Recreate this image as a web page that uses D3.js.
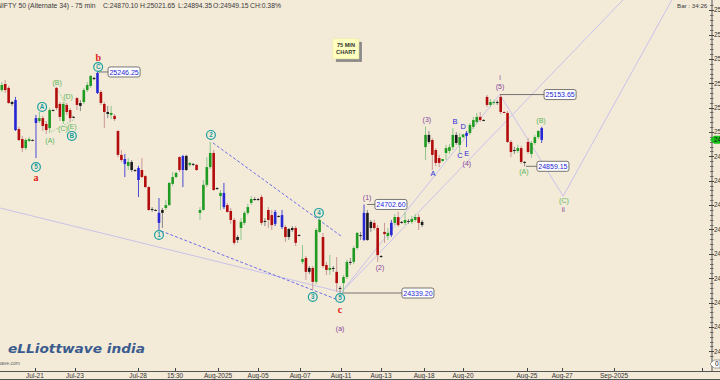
<!DOCTYPE html>
<meta charset="utf-8">
<style>

body { margin: 0; background: #f3ead8; }
svg { display: block; font-family: "Liberation Sans", Arial, sans-serif; }

.hdr { font-size: 6.8px; fill: #3a3a3a; }
.axis text { font-size: 6.5px; fill: #333; }
.wave { font-size: 7px; text-anchor: middle; }
.circ text { font-size: 6.3px; font-weight: bold; fill: #1a9e9e; text-anchor: middle; }
.circ circle { fill: none; stroke: #1a9e9e; stroke-width: 1.2px; }
.tag text { font-size: 7px; fill: #2323d6; text-anchor: middle; }
.tag rect { fill: #fff; stroke: #555; stroke-width: 0.8px; }

</style>
<svg width="720" height="380"></svg>
<script src="https://d3js.org/d3.v7.min.js"></script>
<script>

var svg = d3.select("svg"),
    width = +svg.attr("width"),
    height = +svg.attr("height");

// 75 min bars, Jul-17 .. Aug-25 (6 bars a day, last one is the 15:30 print)
var open = [
  25172,25197,25181,25123,25131,25012,24971,24934,24963,24967,
  25037,25045,25057,25033,25016,25090, 25181,25115,25045,25111,25090,25062,
  25139,25119,25123,25172,25189,25222, 25242,25164,25115,25082,25070,25066,
  25004,24906,24889,24861,24877,24844, 24852,24844,24819,24774,24684,24680,
  24668,24668,24688,24700,24787,24815, 24897,24844,24902,24865,24869,24865,
  24668,24680,24783,24856,24914,24770, 24737,24750,24700,24676,24639,24569,
  24606,24627,24668,24709,24725,24725, 24733,24635,24680,24659,24623,24655,
  24659,24610,24602,24606,24606,24577, 24467,24483,24442,24442,24385,24590,
  24569,24454,24434,24442,24426,24360, 24380,24405,24467,24467,24524,24573,
  24557,24668,24631,24627,24606,24491, 24590,24573,24577,24627,24651,24631,
  24627,24635,24631,24639,24651,24631, 24938,24988,24967,24926,24893,24881,
  24914,24922,24938,24988,24947,24979, 24984,24996,25021,25041,25062,25049,
  25144,25111,25119,25123,25144,25082, 25078,24959,24926,24922,24934,24877,
  24959,24910,24955,24979,25016];
var high = [
  25205,25213,25189,25127,25144,25021,24984,24975,24979,24971,
  25070,25082,25066,25045,25098,25094, 25185,25123,25123,25119,25098,25066,
  25144,25131,25181,25205,25234,25226, 25246.25,25172,25123,25107,25107,25074,
  25008,24926,24910,24893,24885,24848, 24861,24893,24824,24779,24692,24684,
  24729,24688,24721,24795,24836,24836, 24901,24906,24906,24877,24873,24869,
  24692,24803,24897,24959,24926,24774, 24762,24791,24709,24688,24647,24577,
  24647,24676,24705,24737,24733,24729, 24742,24647,24692,24680,24680,24659,
  24680,24618,24606,24614,24614,24581, 24536,24491,24450,24450,24606,24647,
  24586,24467,24495,24450,24487,24368, 24413,24475,24483,24532,24590,24590,
  24702.6,24680,24639,24639,24618,24495, 24627,24606,24639,24663,24672,24635,
  24672,24643,24655,24663,24663,24639, 25022,25004,24975,24934,24906,24889,
  24947,24951,25016,25000,24996,24992, 25004,25037,25062,25078,25082,25053,
  25152,25135,25131,25131,25153.65,25086, 25086,24967,24939,24947,24943,24881,
  24975,24963,24988,25008,25021.65];
var low = [
  25164,25160,25115,25107,25004,24963,24918,24926,24959,24963,
  24893,25037,25004,24992,24996,25086, 25090,25045,25033,25070,25041,25057,
  25090,25086,25115,25164,25181,25213, 25156,25111,25016,25057,25053,25045,
  24897,24877,24815,24844,24836,24836, 24733,24811,24770,24676,24672,24676,
  24598,24606,24680,24696,24778,24811, 24836,24774,24840,24856,24860,24840,
  24639,24676,24774,24848,24758,24762, 24680,24684,24668,24623,24536,24545,
  24557,24618,24659,24700,24717,24717, 24618,24614,24606,24598,24614,24651,
  24602,24549,24557,24590,24532,24573, 24458,24393,24417,24352,24376,24586,
  24442,24413,24413,24426,24344,24339.2, 24344,24397,24454,24458,24516,24557,
  24553,24553,24590,24598,24467,24483, 24545,24557,24569,24618,24610,24623,
  24618,24623,24623,24631,24598,24610, 24885,24951,24844,24860,24856,24877,
  24885,24910,24926,24947,24914,24975, 24938,24988,25012,25033,25041,25045,
  25103,25103,25111,25111,25074,25078, 24955,24897,24910,24914,24869,24859.15,
  24910,24894.35,24947,24971,24955];
var close = [
  25193,25172,25119,25115,25008,24967,24934,24967,24971,24965,
  25057,25057,25025,25008,25090,25088, 25098,25062,25115,25082,25057,25060,
  25111,25107,25172,25193,25230,25217, 25160,25119,25082,25074,25078,25053,
  24906,24885,24869,24877,24844,24840, 24803,24815,24774,24680,24680,24678,
  24627,24680,24700,24791,24815,24832, 24844,24901,24844,24873,24865,24844,
  24680,24783,24856,24914,24762,24766, 24750,24692,24672,24639,24545,24557,
  24631,24668,24692,24725,24723,24721, 24627,24631,24639,24618,24672,24651,
  24610,24569,24569,24598,24545,24575, 24479,24426,24426,24385,24598,24639,
  24450,24434,24442,24438,24380,24356, 24405,24467,24463,24524,24586,24577,
  24668,24557,24606,24606,24495,24487, 24581,24586,24627,24651,24618,24627,
  24639,24631,24643,24651,24627,24618, 24988,24959,24906,24873,24873,24889,
  24934,24938,24988,24955,24979,24990, 24996,25029,25049,25062,25049,25047,
  25111,25123,25123,25119,25082,25080, 24959,24918,24922,24934,24877,24873,
  24918,24955,24979,25004,24967.75];
// bar colouring of the package: g green, r red, b blue, k black
var signal = ("grrkbrrggk" + "bgrrgk" + "rrgrrk" + "rkgggk" + "brrkgr" + "rrbgkk" +
  "brrrkk" + "bkgggg" + "rbkgkr" + "ggggrk" + "gbrrrk" + "ggggkk" + "rkrrbk" +
  "brkkrk" + "grkrgg" + "rrgkrk" + "ggkggk" + "bkkrrk" + "rgbgrk" + "gkggrk" +
  "gkrrrg" + "gggkgg" + "bgggrk" + "rggkrr" + "rrkgrk" + "rgggb").split("");

var timeLabels = ["Jul-21", "Jul-23", "Jul-28", "15:30", "Aug-2025", "Aug-05", "Aug-07",
  "Aug-11", "Aug-13", "Aug-18", "Aug-20", "Aug-25", "Aug-27", "Sep-2025", ""];
var timeBars = [9.7, 21.4, 39.9, 50.7, 63.3, 75, 87.3, 99.3, 111, 123.6, 135, 153.7, 164, 179.2, 205];
var priceTicks = d3.range(24100, 25501, 100);

// wave labels: text, bar, price, kind
var waves = [
  ["5", 10, 24856, "circ"], ["a", 10, 24815, "red"], ["A", 11.8, 25103, "circ"],
  ["(A)", 14.1, 24967, "green"], ["(B)", 16.2, 25205, "green"], ["(C)", 17.9, 25016, "green"],
  ["(D)", 19.4, 25144, "green"], ["(E)", 20.5, 25021, "green"], ["B", 20.5, 24984, "circ"],
  ["b", 28.2, 25308, "red"], ["C", 28.2, 25267, "circ"],
  ["1", 46, 24577, "circ"], ["2", 61.2, 24988, "circ"], ["3", 91, 24323, "circ"],
  ["4", 92.8, 24668, "circ"], ["5", 99, 24319, "circ"], ["c", 99, 24270, "red"],
  ["(a)", 99, 24192, "purple"], ["(1)", 106.9, 24733, "purple"], ["(2)", 110.7, 24442, "purple"],
  ["(3)", 124.4, 25053, "purple"], ["A", 126.2, 24832, "blue"], ["B", 132.6, 25045, "blue"],
  ["C", 134.1, 24906, "blue"], ["D", 135, 25025, "blue"], ["E", 136.1, 24914, "blue"],
  ["(4)", 136.1, 24869, "purple"], ["i", 145.8, 25222, "purple"], ["(5)", 145.8, 25185, "purple"],
  ["(B)", 157.8, 25049, "green"], ["(A)", 152.8, 24836, "green"],
  ["(C)", 164.5, 24717, "green"], ["ii", 164.3, 24680, "purple"]
];
// price tags: value, bar of the extreme, bar where the box starts
var tags = [[25246.25, 28.3, 31.1], [24702.60, 106.9, 109.2], [24339.20, 99.5, 117.1],
  [25153.65, 145.8, 158.7], [24859.15, 153.4, 156.6]];
// trend lines: bar1, price1, bar2, price2, kind
var lines = [
  [-0.5, 24688, 99, 24344, "solid"], [61.8, 24955, 99.3, 24573, "dash"],
  [46.6, 24594, 98.4, 24311, "dash"], [99.5, 24344, 181.8, 25542, "solid"],
  [99.5, 24344, 145.8, 25156, "solid"], [145.8, 25152, 164.3, 24737, "solid"],
  [164.3, 24737, 196.1, 25542, "solid"],
  [16.2, 25176, 20.8, 25062, "dot"], [14.4, 25000, 21.4, 25053, "dot"]
];

var x = d3.scaleLinear().domain([0, 158]).range([1.8, 541.7]),
    y = d3.scaleLinear().domain([24100, 25500]).range([351.3, 10.15]);

var bodyColor = { g: "#1f9b22", r: "#b30c0c", b: "#2626d4", k: "#1c1c1c" },
    wickColor = { g: "#8ec78e", r: "#c99898", b: "#4b4bd6", k: "#888" },
    labelColor = { green: "#5cb65c", purple: "#86479a", blue: "#2b2bd8", red: "#e01b1b" };

svg.append("rect").attr("width", width).attr("height", height).attr("fill", "#f3ead8");

// trend lines
svg.append("g").selectAll("line")
  .data(lines)
  .enter().append("line")
    .attr("x1", function(d) { return x(d[0]); })
    .attr("y1", function(d) { return y(d[1]); })
    .attr("x2", function(d) { return x(d[2]); })
    .attr("y2", function(d) { return y(d[3]); })
    .attr("stroke", function(d) { return d[4] == "dash" ? "#6e6ee8" : d[4] == "dot" ? "#97cc97" : "#c9c3ea"; })
    .attr("stroke-width", 1)
    .attr("stroke-dasharray", function(d) { return d[4] == "dash" ? "3,2" : d[4] == "dot" ? "1.5,1.5" : null; });

// candles
var bar = svg.append("g").selectAll("g")
  .data(d3.range(open.length))
  .enter().append("g");

bar.append("line")
    .attr("x1", function(i) { return x(i); })
    .attr("x2", function(i) { return x(i); })
    .attr("y1", function(i) { return y(high[i]); })
    .attr("y2", function(i) { return y(low[i]); })
    .attr("stroke", function(i) { return wickColor[signal[i]]; })
    .attr("stroke-width", 1);

bar.append("rect")
    .attr("x", function(i) { return x(i) - 1.3; })
    .attr("width", 2.6)
    .attr("y", function(i) { return y(Math.max(open[i], close[i])); })
    .attr("height", function(i) { return Math.max(1, Math.abs(y(open[i]) - y(close[i]))); })
    .attr("fill", function(i) { return bodyColor[signal[i]]; });

// price tags
var tag = svg.append("g").selectAll("g")
  .data(tags)
  .enter().append("g").attr("class", "tag");

tag.append("line")
    .attr("x1", function(d) { return x(d[1]); })
    .attr("x2", function(d) { return x(d[2]); })
    .attr("y1", function(d) { return y(d[0]); })
    .attr("y2", function(d) { return y(d[0]); })
    .attr("stroke", "#555").attr("stroke-width", 0.8);

tag.append("rect")
    .attr("x", function(d) { return x(d[2]); })
    .attr("y", function(d) { return y(d[0]) - 5; })
    .attr("width", 32).attr("height", 10).attr("rx", 2);

tag.append("text")
    .attr("x", function(d) { return x(d[2]) + 16; })
    .attr("y", function(d) { return y(d[0]); })
    .attr("dy", "0.36em")
    .text(function(d) { return d[0].toFixed(2); });

// wave labels
var wl = svg.append("g");
wl.selectAll("g.circ")
  .data(waves.filter(function(d) { return d[3] == "circ"; }))
  .enter().append("g").attr("class", "circ")
    .attr("transform", function(d) { return "translate(" + x(d[1]) + "," + y(d[2]) + ")"; })
    .each(function(d) {
      var g = d3.select(this);
      g.append("circle").attr("r", 4.4);
      g.append("text").attr("dy", "0.36em").text(d[0]);
    });

wl.selectAll("text.wave")
  .data(waves.filter(function(d) { return d[3] != "circ"; }))
  .enter().append("text").attr("class", "wave")
    .attr("x", function(d) { return x(d[1]); })
    .attr("y", function(d) { return y(d[2]); })
    .attr("dy", "0.36em")
    .attr("fill", function(d) { return labelColor[d[3]]; })
    .style("font-family", function(d) { return d[3] == "red" ? "'Liberation Serif', serif" : null; })
    .style("font-size", function(d) { return d[3] == "red" ? "10px" : d[3] == "blue" ? "7.5px" : null; })
    .style("font-weight", function(d) { return d[3] == "red" ? "bold" : null; })
    .text(function(d) { return d[0]; });

// note
var note = svg.append("g").attr("transform", "translate(" + x(96.9) + "," + y(25382) + ")");
note.append("rect").attr("x", 3).attr("y", 3).attr("width", 26).attr("height", 20).attr("fill", "#8a8a8a");
note.append("rect").attr("width", 26).attr("height", 20).attr("fill", "#ffffc0").attr("stroke", "#f0eaa0").attr("stroke-width", 0.6);
note.append("text").attr("x", 13).attr("y", 8.5).attr("text-anchor", "middle")
    .style("font-size", "5.6px").style("font-weight", "bold").attr("fill", "#333").text("75 MIN");
note.append("text").attr("x", 13).attr("y", 15.5).attr("text-anchor", "middle")
    .style("font-size", "5.6px").style("font-weight", "bold").attr("fill", "#333").text("CHART");

// right axis
var axisX = 712, bottomY = 371;
var ra = svg.append("g").attr("class", "axis");
ra.append("line").attr("x1", axisX).attr("x2", axisX).attr("y1", 0).attr("y2", bottomY)
    .attr("stroke", "#555").attr("stroke-width", 1);
ra.selectAll("line.minor")
  .data(d3.range(24080, 25521, 20))
  .enter().append("line")
    .attr("x1", axisX - 2).attr("x2", axisX + 1.5)
    .attr("y1", function(d) { return Math.round(y(d)) + 0.5; })
    .attr("y2", function(d) { return Math.round(y(d)) + 0.5; })
    .attr("stroke", "#555").attr("stroke-width", 0.8);
ra.selectAll("line.major")
  .data(priceTicks)
  .enter().append("line")
    .attr("x1", axisX - 3).attr("x2", axisX + 2)
    .attr("y1", function(d) { return Math.round(y(d)) + 0.5; })
    .attr("y2", function(d) { return Math.round(y(d)) + 0.5; })
    .attr("stroke", "#444").attr("stroke-width", 1);
ra.selectAll("text")
  .data(priceTicks)
  .enter().append("text")
    .attr("x", axisX + 2)
    .attr("y", function(d) { return y(d); })
    .attr("dy", "0.36em")
    .text(function(d) { return d; });

// last price marker
var last = close[close.length - 1], ly = y(last);
svg.append("path")
    .attr("d", "M" + (axisX - 2) + "," + ly + "L" + (axisX + 2) + "," + (ly - 4) + "H720V" + (ly + 4) + "H" + (axisX + 2) + "Z")
    .attr("fill", "#19c419");
svg.append("text").attr("x", axisX + 2).attr("y", ly).attr("dy", "0.36em")
    .style("font-size", "6.5px").attr("fill", "#111").text(last.toFixed(2));

// oscillator zero marker
svg.append("path")
    .attr("d", "M" + (axisX - 2) + ",364L" + (axisX + 2) + ",360H720V368H" + (axisX + 2) + "Z")
    .attr("fill", "#fff").attr("stroke", "#666").attr("stroke-width", 0.6);
svg.append("text").attr("x", axisX + 3).attr("y", 364).attr("dy", "0.36em")
    .style("font-size", "6.5px").attr("fill", "#111").text("0");

// bottom axis
var ba = svg.append("g").attr("class", "axis");
ba.append("line").attr("x1", 0).attr("x2", width).attr("y1", bottomY + 0.5).attr("y2", bottomY + 0.5)
    .attr("stroke", "#555");
ba.append("line").attr("x1", 0).attr("x2", width).attr("y1", height - 0.5).attr("y2", height - 0.5)
    .attr("stroke", "#555");
ba.selectAll("line.t")
  .data(timeBars)
  .enter().append("line")
    .attr("x1", function(d) { return Math.round(x(d)) + 0.5; })
    .attr("x2", function(d) { return Math.round(x(d)) + 0.5; })
    .attr("y1", bottomY - 3).attr("y2", bottomY)
    .attr("stroke", "#444");
ba.selectAll("text")
  .data(timeBars)
  .enter().append("text")
    .attr("x", function(d) { return x(d); })
    .attr("y", 377.5)
    .attr("text-anchor", "middle")
    .text(function(d, i) { return timeLabels[i]; });

// header
var hdr = [["NIFTY 50 (Alternate 34) - 75 min", -3, "#3a3a3a"], ["C:24870.10", 103, "#3a3a3a"],
  ["H:25021.65", 140, "#3a3a3a"], ["L:24894.35", 178, "#3a3a3a"], ["O:24949.15", 213, "#3a3a3a"],
  ["CH:0.38%", 250, "#2b2be0"], ["Bar : 34:26", 677, "#555"]];
svg.append("g").selectAll("text")
  .data(hdr)
  .enter().append("text").attr("class", "hdr")
    .attr("x", function(d) { return d[1]; })
    .attr("y", 8)
    .attr("fill", function(d) { return d[2]; })
    .style("font-size", function(d) { return d[1] > 600 ? "6.2px" : null; })
    .text(function(d) { return d[0]; });

// logo
svg.append("text")
    .attr("x", 8).attr("y", 353)
    .attr("textLength", 137).attr("lengthAdjust", "spacingAndGlyphs")
    .style("font-family", "'DejaVu Sans', sans-serif")
    .style("font-size", "13px").style("font-weight", "bold").style("font-style", "italic")
    .attr("fill", "#3a5b8e")
    .text("eLLiottwave india");
svg.append("text")
    .attr("x", 20).attr("y", 365).attr("text-anchor", "end")
    .style("font-size", "5px").attr("fill", "#666")
    .text("www.elliottwave.com");

</script>
